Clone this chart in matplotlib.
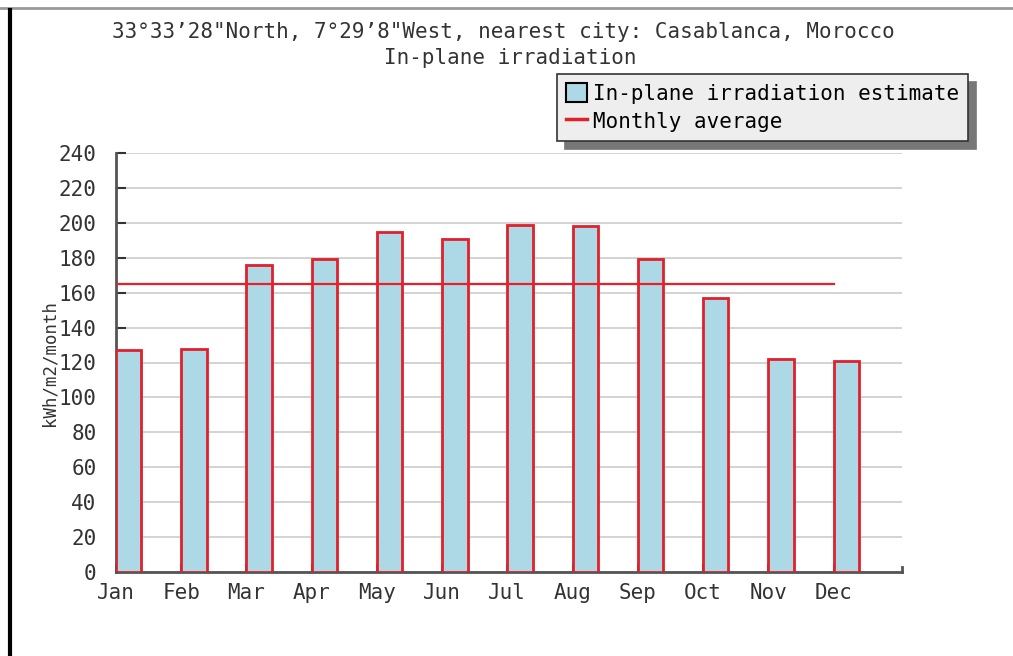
import matplotlib
matplotlib.use("Agg")
import matplotlib.pyplot as plt
from matplotlib.lines import Line2D
from matplotlib.patches import Patch

months = ["Jan", "Feb", "Mar", "Apr", "May", "Jun", "Jul", "Aug", "Sep", "Oct", "Nov", "Dec"]
irradiation = [127, 128, 176, 179, 195, 191, 199, 198, 179, 157, 122, 121]
monthly_average = 165
yticks = list(range(0, 241, 20))

title1 = "33\u00b033\u201928\"North, 7\u00b029\u20198\"West, nearest city: Casablanca, Morocco"
title2 = "In-plane irradiation"

W, H = 1013, 656
fig = plt.figure(figsize=(W / 100, H / 100), dpi=100)
mono = "DejaVu Sans Mono"
fs = 15

ax = fig.add_axes([116 / W, 1 - 572 / H, (902 - 116) / W, (572 - 153) / H])
x = list(range(len(months)))
ax.bar(x, irradiation, width=0.39, align="edge", color="#add8e6",
       edgecolor="#e0202a", linewidth=2, zorder=3)
ax.plot([0, 11], [monthly_average, monthly_average], color="#e8202a", lw=1.6, zorder=4)

ax.set_xlim(0, 12.05)
ax.set_ylim(0, 240)
ax.set_yticks(yticks)
ax.set_xticks(x)
ax.set_xticklabels(months, family=mono, fontsize=fs, color="#333333")
ax.set_yticklabels([str(v) for v in yticks], family=mono, fontsize=fs, color="#333333")
ax.tick_params(axis="y", direction="in", length=7, width=1.5, color="#333333", pad=14)
ax.tick_params(axis="x", direction="in", length=6, width=1.2, color="#333333", pad=8)
ax.grid(axis="y", color="#cccccc", lw=1.2, zorder=0)
for s in ["top", "right"]:
    ax.spines[s].set_visible(False)
for s in ["left", "bottom"]:
    ax.spines[s].set_color("#555555")
    ax.spines[s].set_linewidth(2)
ax.plot([12.05, 12.05], [0, 3], color="#555555", lw=2, clip_on=False)
ax.set_ylabel("kWh/m2/month", family=mono, fontsize=12.5, color="#333333", labelpad=0)

fig.text(503 / W, 1 - 32 / H, title1, family=mono, fontsize=fs, ha="center", va="center", color="#333333")
fig.text(510 / W, 1 - 58 / H, title2, family=mono, fontsize=fs, ha="center", va="center", color="#333333")

handles = [Patch(facecolor="#add8e6", edgecolor="black", linewidth=1.5),
           Line2D([0], [0], color="#e0202a", lw=2.5)]
leg = fig.legend(handles, ["In-plane irradiation estimate", "Monthly average"],
                 loc="upper right", bbox_to_anchor=(968 / W, 1 - 74 / H),
                 prop={"family": mono, "size": fs}, frameon=True, fancybox=False,
                 shadow={"color": "#777777", "alpha": 1, "ox": 6, "oy": -6},
                 facecolor="#eeeeee",
                 edgecolor="#333333", handlelength=1.0, handleheight=1.0,
                 handletextpad=0.25, borderpad=0.45, labelspacing=0.35,
                 borderaxespad=0)
leg.get_frame().set_linewidth(1.2)

fig.add_artist(Line2D([0, 1], [1 - 8 / H, 1 - 8 / H], color="#999999", lw=2, transform=fig.transFigure))
fig.add_artist(Line2D([10 / W, 10 / W], [0, 1 - 10 / H], color="black", lw=3, transform=fig.transFigure))

fig.savefig("out.png", dpi=100)
